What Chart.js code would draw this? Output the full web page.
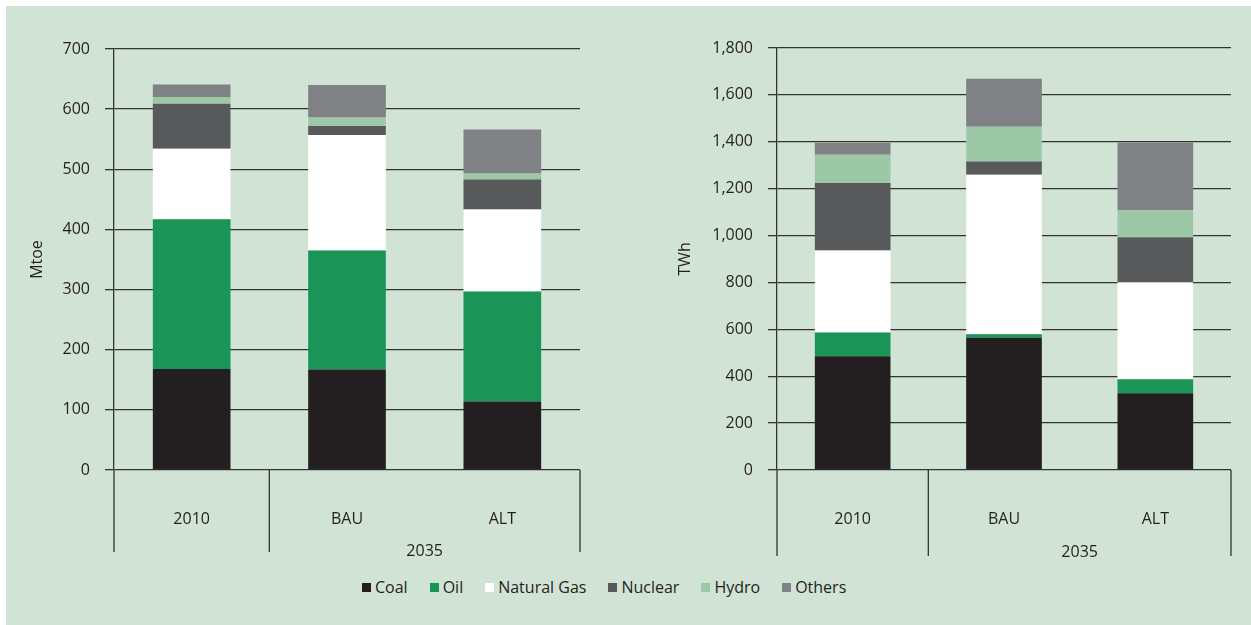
<!DOCTYPE html>
<html>
<head>
<meta charset="utf-8">
<script src="https://cdn.jsdelivr.net/npm/chart.js@4.4.1/dist/chart.umd.min.js"></script>
<style>
  html, body { margin: 0; padding: 0; background: #ffffff; }
  body { width: 1251px; height: 625px; position: relative; overflow: hidden; font-family: "Open Sans", sans-serif; }
  #panel { position: absolute; left: 6px; top: 6px; right: 0; bottom: 0; background: #d1e3d5; }
  #c1 { position: absolute; left: 0; top: 0; }
  #c2 { position: absolute; left: 640px; top: 0; }
  #legend { position: absolute; left: 362px; top: 576px; display: flex; align-items: center; gap: 22px; color: #231f20; font-size: 16px; }
  .item { display: flex; align-items: center; gap: 4px; }
  .box { width: 9px; height: 9px; display: inline-block; }
</style>
</head>
<body>
<div id="panel"></div>
<canvas id="c1" width="640" height="570"></canvas>
<canvas id="c2" width="611" height="570"></canvas>
<div id="legend"></div>
<script>
// ---- Data ----
const categories = ['2010', 'BAU', 'ALT'];
const groupLabel = '2035'; // spans BAU and ALT
const seriesNames = ['Coal', 'Oil', 'Natural Gas', 'Nuclear', 'Hydro', 'Others'];
const seriesColors = ['#231f20', '#1a9557', '#ffffff', '#58595b', '#9dc8a8', '#808184'];

// Primary energy (Mtoe)
const mtoeCoal    = [168, 167, 114];
const mtoeOil     = [249, 198, 183];
const mtoeGas     = [117, 192, 136];
const mtoeNuclear = [75, 15, 50];
const mtoeHydro   = [11, 14, 10];
const mtoeOthers  = [21, 54, 73];

// Electricity generation (TWh)
const twhCoal    = [485, 564, 327];
const twhOil     = [101, 15, 60];
const twhGas     = [350, 680, 414];
const twhNuclear = [288, 57, 192];
const twhHydro   = [121, 148, 115];
const twhOthers  = [51, 205, 289];

const leftTicks = { min: 0, max: 700, step: 100 };
const rightTicks = { min: 0, max: 1800, step: 200 };

// ---- Styling ----
const FONT = '"Open Sans", sans-serif';
const TEXT = '#231f20';
const LINE = '#333333';
Chart.defaults.font.family = FONT;
Chart.defaults.font.size = 16;
Chart.defaults.color = TEXT;

function datasets(arrs) {
  return arrs.map((d, i) => ({
    label: seriesNames[i],
    data: d,
    backgroundColor: seriesColors[i],
    borderWidth: 0,
    categoryPercentage: 1,
    barPercentage: 0.5
  }));
}

const groupPlugin = {
  id: 'groupAxis',
  afterDraw(chart, args, opts) {
    const { ctx, chartArea, scales } = chart;
    const x = scales.x;
    const bottom = chartArea.bottom;
    const sep = (x.getPixelForValue(0) + x.getPixelForValue(1)) / 2;
    ctx.save();
    ctx.strokeStyle = LINE;
    ctx.lineWidth = 1.3;
    [chartArea.left, sep, chartArea.right].forEach(px => {
      ctx.beginPath();
      ctx.moveTo(px, bottom);
      ctx.lineTo(px, bottom + opts.depth);
      ctx.stroke();
    });
    ctx.fillStyle = TEXT;
    ctx.font = '16px ' + FONT;
    ctx.textAlign = 'center';
    ctx.textBaseline = 'middle';
    const gx = (x.getPixelForValue(1) + x.getPixelForValue(2)) / 2;
    ctx.fillText(groupLabel, gx, bottom + opts.labelOffset);
    ctx.restore();
  }
};

function makeChart(id, arrs, title, ticks, cfg) {
  return new Chart(document.getElementById(id), {
    type: 'bar',
    data: { labels: categories, datasets: datasets(arrs) },
    plugins: [groupPlugin],
    options: {
      responsive: false,
      animation: false,
      layout: { padding: { left: cfg.padLeft, top: cfg.padTop, right: cfg.padRight, bottom: 0 } },
      plugins: {
        legend: { display: false },
        tooltip: { enabled: false },
        groupAxis: { depth: cfg.depth, labelOffset: cfg.labelOffset }
      },
      scales: {
        x: {
          stacked: true,
          grid: { display: false, drawTicks: false },
          border: { display: false },
          ticks: { padding: cfg.xPad, color: TEXT, font: { size: 16 }, maxRotation: 0 },
          afterFit(scale) { scale.height = cfg.xHeight; }
        },
        y: {
          stacked: true,
          min: ticks.min,
          max: ticks.max,
          title: { display: true, text: title, color: TEXT, font: { size: 16 }, padding: { top: 4, bottom: 4 } },
          ticks: {
            stepSize: ticks.step,
            padding: 15,
            color: TEXT,
            font: { size: 16 },
            callback: v => v.toLocaleString('en-US')
          },
          grid: { color: LINE, lineWidth: 1.3, tickLength: 9, drawTicks: true },
          border: { display: true, color: LINE, width: 1.3 },
          afterFit(scale) { scale.width = cfg.yWidth; }
        }
      }
    }
  });
}

makeChart('c1',
  [mtoeCoal, mtoeOil, mtoeGas, mtoeNuclear, mtoeHydro, mtoeOthers],
  'Mtoe', leftTicks,
  { padLeft: 24, padTop: 49, padRight: 60, yWidth: 90, xHeight: 100, xPad: 40, depth: 82, labelOffset: 81 });

makeChart('c2',
  [twhCoal, twhOil, twhGas, twhNuclear, twhHydro, twhOthers],
  'TWh', rightTicks,
  { padLeft: 32, padTop: 48, padRight: 20, yWidth: 105, xHeight: 100, xPad: 40, depth: 86, labelOffset: 82 });

// ---- HTML legend built from series arrays ----
const legend = document.getElementById('legend');
seriesNames.forEach((name, i) => {
  const item = document.createElement('span');
  item.className = 'item';
  const box = document.createElement('span');
  box.className = 'box';
  box.style.background = seriesColors[i];
  const txt = document.createElement('span');
  txt.textContent = name;
  item.appendChild(box);
  item.appendChild(txt);
  legend.appendChild(item);
});
</script>
</body>
</html>
